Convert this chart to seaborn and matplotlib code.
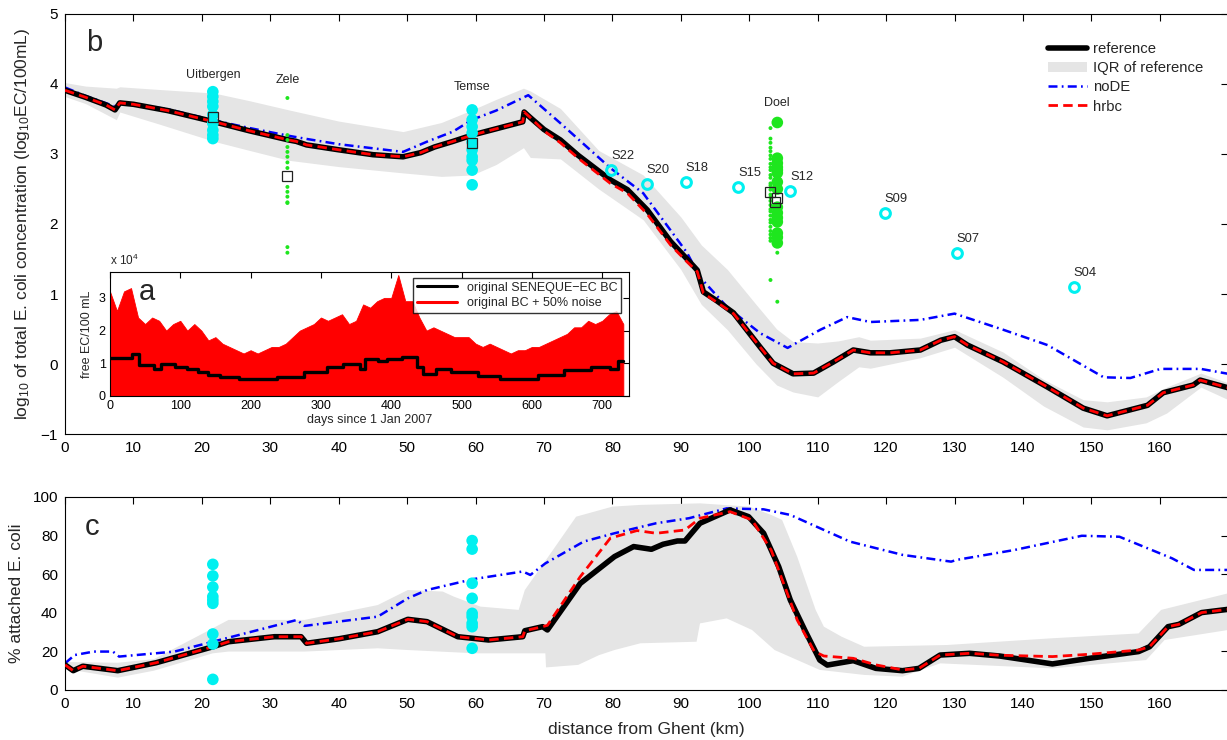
import matplotlib
matplotlib.use("Agg")
import numpy as np
import matplotlib.pyplot as plt
import seaborn as sns
from matplotlib.lines import Line2D
from matplotlib.patches import Patch

# ---------------- panel b : log10 total E. coli vs distance (km) ----------------
ref_km = [0, 3, 6, 7.3, 8, 10, 15, 21.8, 27, 32.7, 33.8, 35.3, 40, 45, 49.4, 52, 54, 56.7,
          59.5, 63, 66.9, 67.1, 68, 70, 72.4, 75, 79.7, 82.2, 85.1, 88.5, 90.9, 92.4, 93.3,
          95.3, 97.7, 101.6, 103.5, 106.4, 109.4, 112.3, 115.2, 117.7, 120.6, 125, 128, 130,
          131.9, 137.1, 143.6, 148.8, 152.3, 158.2, 160.5, 164.9, 165.9, 170]
ref_b = [3.91, 3.81, 3.70, 3.63, 3.73, 3.71, 3.62, 3.46, 3.33, 3.20, 3.18, 3.13, 3.06, 2.99,
         2.96, 3.02, 3.10, 3.18, 3.27, 3.36, 3.46, 3.60, 3.52, 3.35, 3.20, 2.98, 2.63, 2.49,
         2.20, 1.75, 1.50, 1.34, 1.03, 0.90, 0.73, 0.24, 0.01, -0.14, -0.13, 0.03, 0.20, 0.16,
         0.16, 0.20, 0.34, 0.39, 0.27, 0.03, -0.33, -0.63, -0.74, -0.59, -0.41, -0.30, -0.23,
         -0.34]
hrbc_b = [3.91, 3.81, 3.70, 3.63, 3.73, 3.71, 3.62, 3.46, 3.33, 3.20, 3.18, 3.13, 3.06, 2.99,
          2.96, 3.02, 3.10, 3.18, 3.27, 3.36, 3.46, 3.60, 3.52, 3.33, 3.16, 2.94, 2.58, 2.44,
          2.14, 1.70, 1.46, 1.32, 1.01, 0.88, 0.72, 0.24, 0.01, -0.14, -0.13, 0.03, 0.20, 0.16,
          0.16, 0.20, 0.34, 0.39, 0.27, 0.03, -0.33, -0.63, -0.74, -0.59, -0.41, -0.30, -0.23,
          -0.34]
node_km = [0, 3, 7.3, 8, 15, 21.8, 27, 32.7, 35, 40, 46, 49.4, 53, 56.7, 59.5, 63, 67.7, 72.4,
           79.7, 84.5, 88.5, 90.9, 92.8, 96.8, 101.6, 105.6, 110.4, 114.3, 117.7, 125, 130,
           137.1, 143.6, 151.8, 155.7, 160.1, 166, 170]
node_b = [3.95, 3.83, 3.68, 3.74, 3.64, 3.48, 3.37, 3.26, 3.22, 3.14, 3.07, 3.03, 3.18, 3.32,
          3.49, 3.62, 3.84, 3.44, 2.80, 2.44, 1.91, 1.59, 1.24, 0.81, 0.44, 0.23, 0.49, 0.67,
          0.60, 0.63, 0.72, 0.49, 0.27, -0.19, -0.20, -0.07, -0.07, -0.14]
iqr_km = [0, 3, 7.5, 8, 14, 21.8, 27, 32.7, 40, 49.4, 55, 59.5, 63, 67, 68, 72.4, 78, 84.5,
          90, 93, 96.8, 101, 104, 106.4, 110, 113, 116, 117.7, 125, 130, 137.1, 143, 148.8,
          152.3, 158, 161, 166, 170]
iqr_lo = [3.82, 3.72, 3.49, 3.60, 3.42, 3.18, 3.05, 2.91, 2.82, 2.73, 2.68, 2.70, 2.85, 3.09,
          2.95, 2.93, 2.50, 2.06, 1.35, 0.85, 0.49, 0.00, -0.30, -0.40, -0.47, -0.25, -0.04,
          -0.06, 0.09, 0.24, -0.19, -0.60, -0.90, -0.94, -0.84, -0.70, -0.33, -0.51]
iqr_hi = [4.02, 3.97, 3.94, 3.96, 3.92, 3.87, 3.76, 3.63, 3.47, 3.32, 3.45, 3.63, 3.78, 3.94,
          3.90, 3.65, 3.05, 2.70, 2.10, 1.70, 1.35, 0.85, 0.50, 0.32, 0.30, 0.33, 0.39, 0.34,
          0.37, 0.49, 0.17, -0.22, -0.51, -0.54, -0.47, -0.33, -0.13, -0.27]

# observations (log10 EC/100mL)
uitbergen_km, uitbergen_b = 21.6, [3.89, 3.82, 3.75, 3.68, 3.56, 3.44, 3.34, 3.27, 3.22]
temse_km, temse_b = 59.5, [3.63, 3.49, 3.39, 3.30, 3.17, 3.06, 2.96, 2.91, 2.77, 2.56]
zele_km, zele_b = 32.5, [3.80, 3.27, 3.20, 3.10, 3.03, 2.96, 2.88, 2.80, 2.53, 2.46, 2.39,
                         2.31, 2.30, 1.67, 1.59]
doel_big_km, doel_big = 104.1, [3.45, 2.94, 2.87, 2.81, 2.77, 2.73, 2.60, 2.50, 2.24, 2.16,
                                2.09, 2.03, 1.87, 1.81, 1.73]
doel_small_km, doel_small = 103.1, [3.37, 3.22, 3.16, 3.09, 3.04, 2.98, 2.93, 2.86, 2.81, 2.77,
                                    2.70, 2.66, 2.58, 2.55, 2.49, 2.42, 2.38, 2.33, 2.27, 2.21,
                                    2.18, 2.12, 2.06, 2.02, 1.96, 1.90, 1.85, 1.80, 1.76, 1.20]
doel_extra_km, doel_extra = 104.1, [1.59, 0.89]
median_km = [21.6, 32.5, 59.5, 103.0, 104.0, 103.8]
median_b = [3.53, 2.69, 3.16, 2.46, 2.37, 2.31]
site_names = ["Uitbergen", "Zele", "Temse", "Doel"]
site_km = [21.6, 32.5, 59.5, 104.0]
site_label_y = [4.13, 4.06, 3.96, 3.73]
stn_names = ["S22", "S20", "S18", "S15", "S12", "S09", "S07", "S04"]
stn_km = [79.8, 85.0, 90.7, 98.4, 106.0, 119.8, 130.3, 147.4]
stn_b = [2.77, 2.57, 2.60, 2.53, 2.47, 2.15, 1.59, 1.10]

# ---------------- panel c : % attached E. coli ----------------
ref_c_km = [0, 1.2, 2.6, 7.7, 13.3, 21.6, 23.9, 30.6, 34.5, 35.3, 40, 45.7, 50.1, 52.9, 57.4,
            61.9, 66.9, 67.2, 69.8, 70.5, 75.3, 80.3, 83.1, 85.7, 87.4, 89.5, 90.6, 92.8, 97.2,
            99.9, 102.1, 104.3, 106, 108.1, 110.3, 111.4, 115.2, 118.5, 122.4, 124.8, 127.9,
            132.2, 136.6, 144.3, 149.7, 156.9, 158.5, 161.2, 162.8, 166.1, 170]
ref_c = [13.0, 10.0, 12.3, 10.0, 14.1, 22.4, 25.0, 27.6, 27.6, 24.2, 26.5, 30.2, 36.6, 35.4,
         27.6, 25.9, 27.6, 30.7, 32.8, 31.1, 55.2, 69.1, 74.3, 72.9, 75.5, 77.2, 77.2, 86.4,
         93.3, 89.8, 81.2, 63.9, 46.6, 31.1, 15.5, 12.9, 15.2, 11.2, 10.0, 11.2, 18.1, 19.0,
         17.6, 13.5, 16.4, 19.9, 22.4, 32.8, 34.0, 40.1, 41.8]
hrbc_c_km = [0, 1.2, 2.6, 7.7, 13.3, 21.6, 23.9, 30.6, 34.5, 35.3, 40, 45.7, 50.1, 52.9, 57.4,
             61.9, 66.9, 67.2, 69.8, 70.5, 75.3, 79.7, 83.6, 86.4, 90.6, 92.8, 97.2, 100.4,
             103.2, 107.0, 109.5, 110.9, 115.2, 118.5, 122.4, 124.8, 127.9, 132.2, 136.6,
             144.3, 149.7, 156.9, 158.5, 161.2, 162.8, 166.1, 170]
hrbc_c = [13.0, 10.0, 12.3, 10.0, 14.1, 22.4, 25.0, 27.6, 27.6, 24.2, 26.5, 30.2, 36.6, 35.4,
          27.6, 25.9, 27.6, 30.7, 32.8, 33.5, 58.7, 78.7, 82.6, 81.2, 82.9, 89.0, 92.4, 88.1,
          72.5, 36.3, 20.0, 17.6, 16.4, 13.0, 10.4, 11.2, 18.1, 19.0, 18.0, 17.3, 18.5, 20.7,
          22.4, 32.8, 34.0, 40.1, 41.8]
node_c_km = [0, 1.4, 4.2, 7.0, 7.9, 16, 21.6, 33.9, 35.0, 45.7, 50.1, 52.9, 59.6, 66.9, 68,
             70.2, 75.8, 80.3, 86.4, 91.2, 96.7, 102.1, 106, 114.7, 122.4, 129.5, 130.3, 138.7,
             148.6, 154.1, 161.8, 165, 170]
node_c = [13.8, 18.1, 19.9, 19.9, 17.3, 19.9, 25.0, 36.3, 33.2, 38.0, 47.5, 51.8, 57.4, 61.4,
          59.6, 65.6, 76.9, 81.2, 86.4, 89.0, 94.1, 93.6, 90.7, 76.9, 70.0, 66.5, 67.4, 72.5,
          79.9, 79.4, 68.2, 62.2, 62.2]
iqr_c_hi_km = [0, 7.7, 13, 20, 23.9, 35, 45.7, 50.1, 55.2, 56.8, 60.7, 66.3, 67.2, 70.3, 74.7,
               80, 84.1, 92.8, 100, 103.2, 104.8, 107, 109.7, 110.9, 113.5, 116.8, 128.9,
               144.3, 156.9, 160.2, 170]
iqr_c_hi = [14.5, 14.1, 16.0, 29.0, 36.3, 36.3, 44.0, 51.8, 51.0, 48.4, 43.2, 41.5, 51.8,
            67.4, 89.8, 95.0, 95.9, 96.7, 95.0, 90.7, 88.1, 69.1, 41.5, 32.8, 27.6, 22.4, 23.3,
            26.8, 29.3, 41.5, 50.1]
iqr_c_lo_km = [0, 7.7, 13, 21.6, 23.9, 35, 45.7, 50.1, 60, 66.9, 70.2, 70.3, 75, 78, 80.3,
               84.1, 92.3, 92.8, 96.7, 100.4, 103.7, 110.3, 116.8, 122.4, 127.9, 144.3, 158,
               160.7, 170]
iqr_c_lo = [11.0, 6.4, 10.0, 19.0, 19.9, 19.9, 21.6, 20.7, 19.0, 19.0, 19.0, 11.7, 13.0, 18.0,
            20.7, 24.2, 25.0, 34.5, 37.1, 31.1, 20.7, 10.4, 7.8, 6.9, 13.8, 11.2, 15.5, 25.9,
            31.1]
uitbergen_c = [65.1, 59.1, 53.3, 48.4, 46.6, 44.9, 29.0, 23.8, 5.5]
temse_c = [77.4, 73.0, 55.3, 47.5, 39.7, 38.0, 34.5, 32.8, 21.6]

# ---------------- inset a : boundary condition (units of 1e4 EC/100 mL) ----------------
noise_days = list(range(0, 740, 10))
noise_bc = [3.2, 2.6, 3.2, 3.3, 2.4, 2.2, 2.4, 2.3, 2.0, 2.2, 2.3, 2.0, 2.2, 2.0, 1.7, 1.8,
            1.6, 1.5, 1.4, 1.3, 1.4, 1.3, 1.4, 1.5, 1.5, 1.6, 1.8, 2.0, 2.1, 2.2, 2.4, 2.3,
            2.4, 2.5, 2.2, 2.3, 2.8, 2.7, 2.9, 3.0, 3.0, 3.7, 2.9, 2.9, 2.4, 2.0, 2.1, 2.0,
            1.9, 1.8, 1.8, 1.8, 1.6, 1.5, 1.6, 1.5, 1.4, 1.3, 1.4, 1.4, 1.5, 1.5, 1.6, 1.7,
            1.8, 1.9, 2.1, 2.1, 2.3, 2.2, 2.3, 2.5, 2.6, 2.2]
bc_days = [0, 31, 42, 62, 72, 93, 110, 125, 140, 157, 184, 238, 276, 308, 332, 355, 362, 381,
           394, 415, 437, 445, 464, 485, 523, 555, 609, 646, 684, 711, 722, 730]
bc_val = [1.15, 1.28, 0.96, 0.81, 0.97, 0.90, 0.82, 0.72, 0.64, 0.58, 0.53, 0.58, 0.73, 0.89,
          0.99, 0.84, 1.14, 1.07, 1.14, 1.19, 0.89, 0.68, 0.82, 0.73, 0.60, 0.53, 0.63, 0.79,
          0.89, 0.84, 1.06, 1.06]

GREY = "#e5e5e5"
CYAN = "#00f0f0"
GREEN = "#1ee61e"
BLUE = "#0000ff"
RED = "#ff0000"
DASHDOT = (0, (3.6, 1.7, 0.7, 1.7))
DASHED = (0, (3.4, 1.9))

sns.set_theme(style="white")
plt.rcParams["font.family"] = ["Liberation Sans", "DejaVu Sans"]
plt.rcParams["mathtext.fontset"] = "custom"
plt.rcParams["mathtext.rm"] = "Liberation Sans"
plt.rcParams["mathtext.default"] = "regular"
plt.rcParams["axes.edgecolor"] = "black"
plt.rcParams["axes.linewidth"] = 0.8

fig = plt.figure(figsize=(12.27, 7.40), dpi=100)
ax_b = fig.add_axes([0.053, 0.4135, 0.948, 0.5676])
ax_c = fig.add_axes([0.053, 0.0676, 0.948, 0.2608])
ax_a = fig.add_axes([0.0896, 0.4649, 0.423, 0.1679])


def draw_lines(ax, r_km, r_y, h_km, h_y, n_km, n_y):
    sns.lineplot(x=n_km, y=n_y, ax=ax, color=BLUE, lw=1.8, ls=DASHDOT, estimator=None,
                 sort=False, zorder=2)
    sns.lineplot(x=r_km, y=r_y, ax=ax, color="black", lw=4, estimator=None, sort=False,
                 zorder=3)
    sns.lineplot(x=h_km, y=h_y, ax=ax, color=RED, lw=2.0, ls=DASHED, estimator=None,
                 sort=False, zorder=4)


# ---- panel b ----
ax_b.fill_between(iqr_km, iqr_lo, iqr_hi, color=GREY, lw=0, zorder=1)
draw_lines(ax_b, ref_km, ref_b, ref_km, hrbc_b, node_km, node_b)

sns.scatterplot(x=[uitbergen_km] * len(uitbergen_b), y=uitbergen_b, ax=ax_b, color=CYAN,
                s=70, edgecolor="none", zorder=5)
sns.scatterplot(x=[temse_km] * len(temse_b), y=temse_b, ax=ax_b, color=CYAN, s=70,
                edgecolor="none", zorder=5)
sns.scatterplot(x=[zele_km] * len(zele_b), y=zele_b, ax=ax_b, color=GREEN, s=8,
                edgecolor="none", zorder=5)
sns.scatterplot(x=[doel_small_km] * len(doel_small), y=doel_small, ax=ax_b, color=GREEN, s=8,
                edgecolor="none", zorder=5)
sns.scatterplot(x=[doel_extra_km] * len(doel_extra), y=doel_extra, ax=ax_b, color=GREEN, s=8,
                edgecolor="none", zorder=5)
sns.scatterplot(x=[doel_big_km] * len(doel_big), y=doel_big, ax=ax_b, color=GREEN, s=70,
                edgecolor="none", zorder=5)
ax_b.plot(median_km, median_b, ls="none", marker="s", ms=6.5, mfc="none", mec="#222222",
          mew=0.9, zorder=6)
ax_b.plot(stn_km, stn_b, ls="none", marker="o", ms=7, mfc="none", mec=CYAN, mew=2.2,
          zorder=6)
for name, x, y in zip(stn_names, stn_km, stn_b):
    ax_b.text(x, y + 0.2, name, fontsize=9.3, ha="left", va="center")
for name, x, y in zip(site_names, site_km, site_label_y):
    ax_b.text(x, y, name, fontsize=9, ha="center", va="center")

ax_b.set_xlim(0, 170)
ax_b.set_ylim(-1, 5)
ax_b.set_xticks(range(0, 170, 10))
ax_b.set_yticks(range(-1, 6))
ax_b.set_ylabel("log$_{10}$ of total E. coli concentration (log$_{10}$EC/100mL)",
                fontsize=12.5, labelpad=6)
ax_b.text(0.018, 0.93, "b", transform=ax_b.transAxes, fontsize=21, va="center")

handles = [Line2D([], [], color="black", lw=4),
           Patch(facecolor=GREY, edgecolor="none"),
           Line2D([], [], color=BLUE, lw=1.8, ls=DASHDOT),
           Line2D([], [], color=RED, lw=2.0, ls=DASHED)]
ax_b.legend(handles, ["reference", "IQR of reference", "noDE", "hrbc"], loc="upper right",
            bbox_to_anchor=(0.99, 0.965), frameon=False, fontsize=10.7, handlelength=2.6,
            handletextpad=0.4, labelspacing=0.35)

# ---- panel c ----
ax_c.fill(list(iqr_c_hi_km) + iqr_c_lo_km[::-1], list(iqr_c_hi) + iqr_c_lo[::-1],
          color=GREY, lw=0, zorder=1)
draw_lines(ax_c, ref_c_km, ref_c, hrbc_c_km, hrbc_c, node_c_km, node_c)
sns.scatterplot(x=[uitbergen_km] * len(uitbergen_c), y=uitbergen_c, ax=ax_c, color=CYAN,
                s=70, edgecolor="none", zorder=5)
sns.scatterplot(x=[temse_km] * len(temse_c), y=temse_c, ax=ax_c, color=CYAN, s=70,
                edgecolor="none", zorder=5)
ax_c.set_xlim(0, 170)
ax_c.set_ylim(0, 100)
ax_c.set_xticks(range(0, 170, 10))
ax_c.set_yticks(range(0, 101, 20))
ax_c.set_ylabel("% attached E. coli", fontsize=12.5, labelpad=6)
ax_c.set_xlabel("distance from Ghent (km)", fontsize=12.5, labelpad=8)
ax_c.text(0.017, 0.845, "c", transform=ax_c.transAxes, fontsize=21, va="center")

for ax in (ax_b, ax_c):
    ax.tick_params(direction="in", top=True, right=True, length=5, width=0.8,
                   labelsize=11, pad=5, colors="black")

# ---- inset a ----
ax_a.set_facecolor("white")
ax_a.fill_between(noise_days, 0, noise_bc, color=RED, lw=0.6, edgecolor=RED, zorder=1)
sns.lineplot(x=bc_days, y=bc_val, ax=ax_a, color="black", lw=2.4, drawstyle="steps-post",
             estimator=None, sort=False, zorder=2)
ax_a.set_xlim(0, 738)
ax_a.set_ylim(0, 3.8)
ax_a.set_xticks(range(0, 701, 100))
ax_a.set_yticks([0, 1, 2, 3])
ax_a.tick_params(direction="in", top=True, right=True, length=4, width=0.8, labelsize=9,
                 pad=3, colors="black")
ax_a.set_xlabel("days since 1 Jan 2007", fontsize=9, labelpad=1)
ax_a.set_ylabel("free EC/100 mL", fontsize=9, labelpad=4)
ax_a.text(0.0, 1.03, "x 10$^4$", transform=ax_a.transAxes, fontsize=8.5, ha="left",
          va="bottom")
ax_a.text(0.055, 0.84, "a", transform=ax_a.transAxes, fontsize=21, va="center")
leg = ax_a.legend([Line2D([], [], color="black", lw=2.2), Line2D([], [], color=RED, lw=2.2)],
                  ["original SENEQUE\u2212EC BC", "original BC + 50% noise"],
                  loc="upper right", bbox_to_anchor=(0.99, 0.97), fontsize=9, frameon=True,
                  fancybox=False, handlelength=3.2, borderpad=0.3, labelspacing=0.3,
                  borderaxespad=0.2)
leg.get_frame().set_edgecolor("black")
leg.get_frame().set_linewidth(1.0)
for sp in ax_a.spines.values():
    sp.set_color("black")

fig.savefig("out.png", dpi=100, facecolor="white")
